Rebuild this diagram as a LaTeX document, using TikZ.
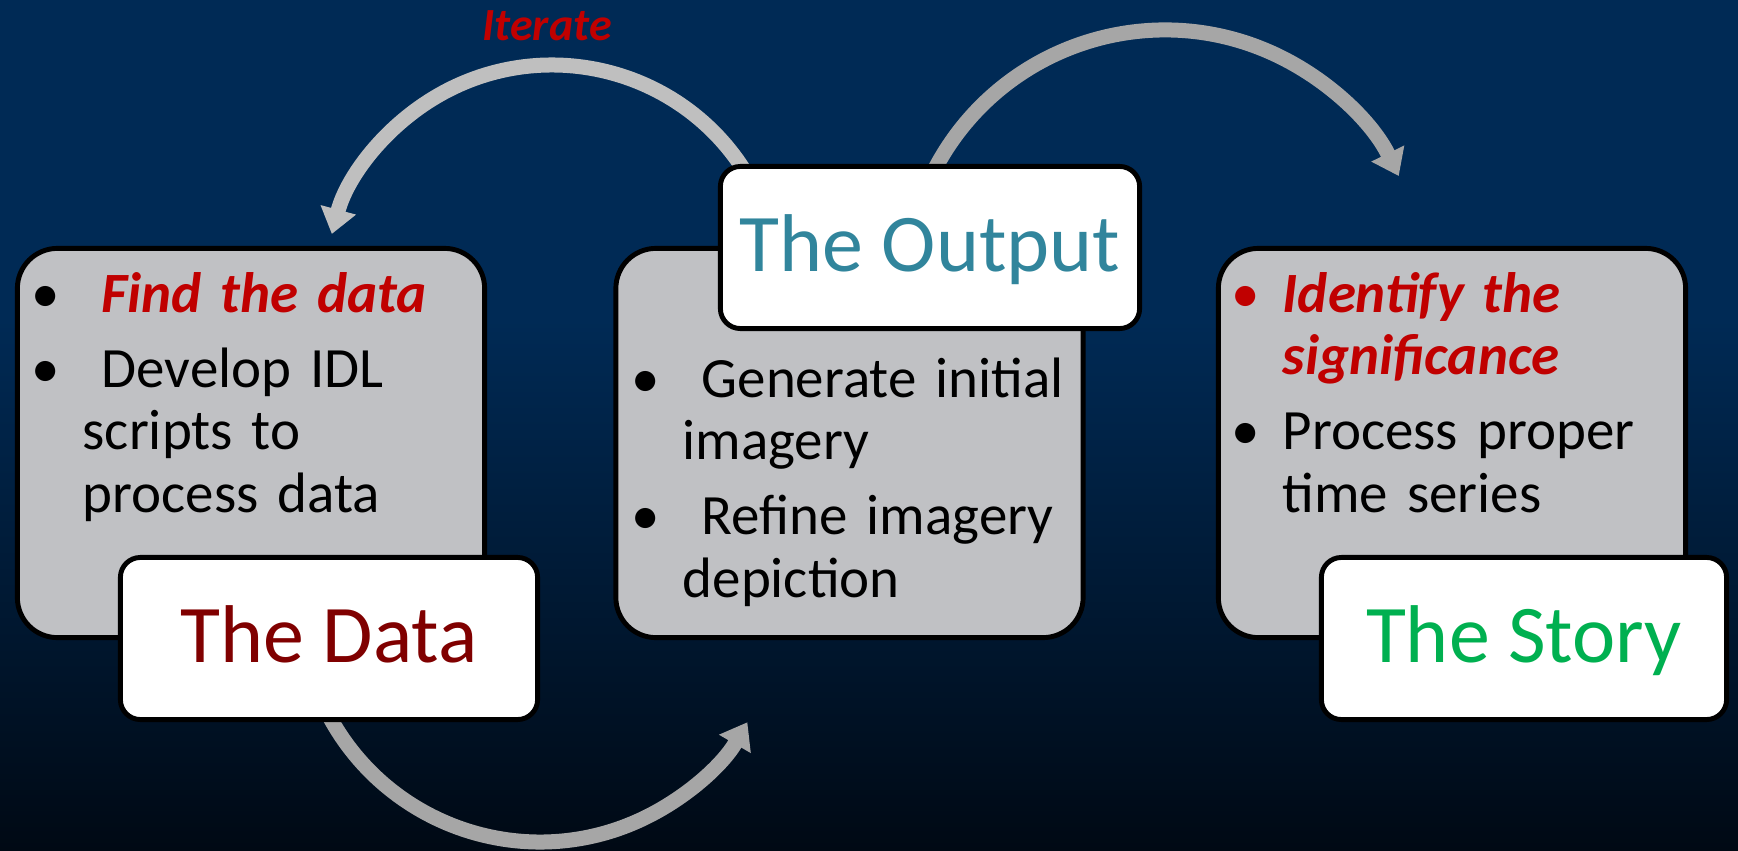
\documentclass[tikz,border=0pt]{standalone}
\usepackage{fontspec}
\setmainfont{Carlito}
\usetikzlibrary{arrows.meta}

\definecolor{bgTop}{RGB}{0,42,85}
\definecolor{bgBot}{RGB}{0,9,20}
\definecolor{boxGray}{RGB}{192,193,196}
\definecolor{arcGray}{RGB}{166,166,166}
\definecolor{arcLight}{RGB}{191,191,191}
\definecolor{emRed}{RGB}{192,0,0}
\definecolor{dataRed}{RGB}{128,0,0}
\definecolor{outTeal}{RGB}{49,133,156}
\definecolor{storyGreen}{RGB}{0,176,80}

\newcommand{\bulfont}{\fontsize{16.2}{17.8}\selectfont}
\newcommand{\ttlfont}{\fontsize{23.3}{28}\selectfont}
\newcommand{\bulpt}[2][black]{\setlength{\parskip}{3.6pt}\hangindent=0.37cm\hangafter=1%
  \noindent\makebox[0.37cm][l]{\makebox[0pt][c]{\textcolor{#1}{\textbullet}}}#2\par}

\tikzset{
  grayBox/.style={draw=black, line width=1.4pt, fill=boxGray, rounded corners=0.4cm,
    minimum width=4.67cm, minimum height=3.89cm, inner sep=0pt},
  titleBox/.style={draw=black, line width=1.4pt, fill=white, rounded corners=0.2cm,
    minimum height=1.62cm, inner sep=0pt, text height=0.48cm, text depth=0pt, font=\ttlfont},
  bulList/.style={anchor=base west, inner sep=0pt, text width=4.6cm, align=left, font=\bulfont},
  flowArrow/.style={line width=0.15cm, -{Triangle[length=0.25cm,width=0.35cm]}}
}

\begin{document}
\begin{tikzpicture}[x=0.01cm,y=-0.01cm]
    %Background
    \useasboundingbox (0,0) rectangle (1738,851);
    \fill[bgTop] (0,0) rectangle (1738,320);
    \shade[top color=bgTop, bottom color=bgBot] (0,319) rectangle (1738,851);
    %Arrows
    \coordinate (iterFrom) at (749.5,179);
    \coordinate (storyFrom) at (929.4,180.1);
    \coordinate (outFrom) at (322.9,703.7);
    \draw[flowArrow, arcLight] (iterFrom) arc[start angle=-30, end angle=-165, radius=228];
    \draw[flowArrow, arcGray] (storyFrom) arc[start angle=-155, end angle=-26, radius=260];
    \draw[flowArrow, arcGray] (outFrom) arc[start angle=155, end angle=30, radius=239.5];
    \node[font=\bfseries\itshape\fontsize{13.1}{15}\selectfont, text=emRed, anchor=base, inner sep=0pt] (iterLbl) at (547,40) {Iterate};
    %Boxes
    \node[grayBox] (dataBox) at (251,443) {};
    \node[grayBox] (outBox) at (849.5,443) {};
    \node[grayBox] (storyBox) at (1452,443) {};
    %Titles
    \node[titleBox, minimum width=4.17cm, text=dataRed] (dataTitle) at (329,638.5) {The Data};
    \node[titleBox, minimum width=4.19cm, text=outTeal] (outTitle) at (930,247.5) {The Output};
    \node[titleBox, minimum width=4.05cm, text=storyGreen] (storyTitle) at (1524,638.5) {The Story};
    %Lists
    \node[bulList] (dataList) at (45,312) {\bulpt{\ \textcolor{emRed}{\bfseries\itshape Find the data}}\bulpt{\ Develop IDL\newline scripts to\newline process data}};
    \node[bulList] (outList) at (645,397) {\bulpt{\ Generate initial\newline imagery}\bulpt{\ Refine imagery\newline depiction}};
    \node[bulList] (storyList) at (1245,312) {\bulpt[emRed]{\textcolor{emRed}{\bfseries\itshape Identify the\newline significance}}\bulpt{Process proper\newline time series}};
\end{tikzpicture}
\end{document}
